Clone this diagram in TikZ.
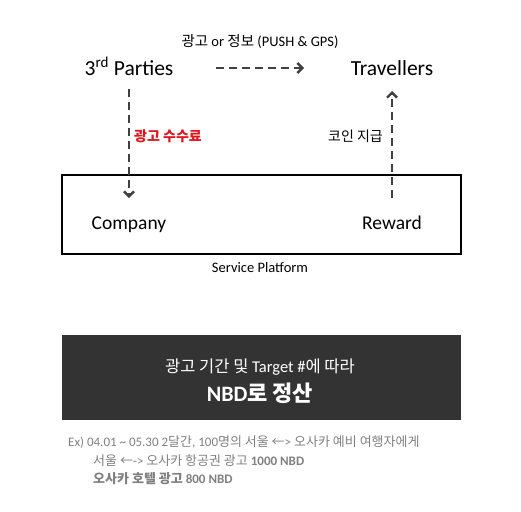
\documentclass[tikz,border=0pt]{standalone}
\usepackage{fontspec}
\setmainfont{Carlito}
\newfontfamily\kr{Noto Sans CJK KR}
\usetikzlibrary{arrows.meta}
\definecolor{darkbox}{HTML}{333333}
\definecolor{exgray}{HTML}{808080}
\definecolor{arrowgray}{HTML}{404040}
\definecolor{feered}{HTML}{E0161C}
\begin{document}
\begin{tikzpicture}[x=1pt,y=-1pt]
        \tikzstyle{actor}=[inner sep=0pt,anchor=base,font=\fontsize{21.5}{25}\selectfont]
        \tikzstyle{part}=[inner sep=0pt,anchor=base,font=\fontsize{19.5}{23}\selectfont]
        \tikzstyle{note}=[inner sep=0pt,anchor=base,font=\fontsize{14}{17}\selectfont]
        \tikzstyle{flow}=[draw=arrowgray,line width=2.8pt,dash pattern=on 8pt off 5pt,-{Straight Barb[length=5pt,width=10pt,line width=2.4pt]}]
        \tikzstyle{exline}=[inner sep=0pt,anchor=base west,text=exgray,font=\fontsize{13}{15}\selectfont]
       \useasboundingbox (0,0) rectangle (521,511);
       \begin{scope}
         \node [note,font=\fontsize{14.5}{17}\selectfont] (push) at (260,46) {{\kr 광고} or {\kr 정보} (PUSH \& GPS)};
         \node [actor] (third) at (129,75) {3\textsuperscript{rd} Parties};
         \node [actor] (trav) at (392,75) {Travellers};
         \coordinate (pushs) at (216,68);
         \coordinate (pushe) at (304,68);
         \path[flow] (pushs) -- (pushe);
        \end{scope}
       \begin{scope}
         \node [draw,line width=2.8pt,minimum width=399pt,minimum height=79pt] (platform) at (261.5,214.5) {};
         \node [note,font=\fontsize{14.5}{17}\selectfont] (splat) at (260,272) {Service Platform};
         \node [part] (comp) at (129,229) {Company};
         \node [part] (reward) at (392,229) {Reward};
         \coordinate (feetop) at (129,89);
         \coordinate (feebot) at (129,198);
         \coordinate (cointop) at (392,91);
         \coordinate (coinbot) at (392,198);
         \path[flow] (feetop) -- (feebot);
         \path[flow] (coinbot) -- (cointop);
         \node [note,anchor=base west,text=feered,font=\kr\bfseries\fontsize{14}{17}\selectfont] (fee) at (134,141) {광고 수수료};
         \node [note,anchor=base east,font=\kr\fontsize{14}{17}\selectfont] (coin) at (383,141) {코인 지급};
        \end{scope}
       \begin{scope}
         \node [fill=darkbox,minimum width=399pt,minimum height=85pt,inner sep=0pt] (nbd) at (261.5,377.5) {};
         \node [note,text=white,font=\fontsize{16.5}{20}\selectfont] (nbd1) at (260,372) {{\kr 광고 기간 및} Target \#{\kr 에 따라}};
         \node [note,text=white,font=\bfseries\fontsize{22}{26}\selectfont] (nbd2) at (260,401) {NBD{\kr 로 정산}};
         \node [exline] (ex1) at (68,446) {Ex) 04.01 \textasciitilde{} 05.30 2{\kr 달간}, 100{\kr 명의 서울 ←}> {\kr 오사카 예비 여행자에게}};
         \node [exline] (ex2) at (93,465) {{\kr 서울 ←}-> {\kr 오사카 항공권 광고} \textbf{1000 NBD}};
         \node [exline,font=\bfseries\fontsize{13}{15}\selectfont] (ex3) at (93,483) {{\kr\bfseries 오사카 호텔 광고} 800 NBD};
        \end{scope}
      \end{tikzpicture}
\end{document}
